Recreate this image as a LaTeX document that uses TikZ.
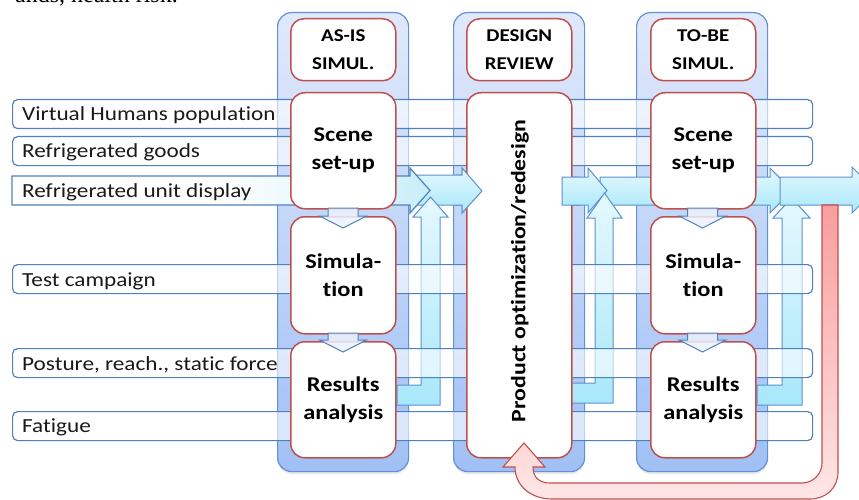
\documentclass[tikz,border=0pt]{standalone}
\usepackage{fontspec}
\setmainfont{Carlito}[FakeStretch=1.16, Ligatures=NoCommon, Contextuals=NoAlternate]
\newfontfamily\serifx{Liberation Serif}
\usetikzlibrary{shadows}
\definecolor{colT}{RGB}{224,233,251}
\definecolor{colB}{RGB}{160,192,245}
\definecolor{colbd}{RGB}{98,145,212}
\definecolor{bluebd}{RGB}{79,129,189}
\definecolor{redbd}{RGB}{192,80,77}
\definecolor{cyT}{RGB}{230,248,254}
\definecolor{cyB}{RGB}{168,232,250}
\definecolor{cyA}{RGB}{200,238,250}
\definecolor{arrbd}{RGB}{91,145,205}
\definecolor{redT}{RGB}{248,158,158}
\definecolor{redB}{RGB}{254,230,230}
\definecolor{chevfill}{RGB}{236,241,252}
\begin{document}
\begin{tikzpicture}[x=1pt,y=-1pt,
  colbox/.style={draw=colbd, line width=1.2pt, rounded corners=14pt, top color=colT, bottom color=colB,
     minimum width=131pt, minimum height=459pt, anchor=north west, inner sep=0pt,
     drop shadow={opacity=0.18, shadow xshift=0pt, shadow yshift=-2.5pt}},
  hdrbox/.style={draw=redbd, line width=1.5pt, rounded corners=13pt, fill=white,
     minimum width=105pt, minimum height=62pt, anchor=north west, inner sep=0pt,
     align=center, font=\fontsize{18}{27.5}\selectfont\bfseries},
  inbox/.style={draw=redbd, line width=1.5pt, rounded corners=14pt, fill=white,
     minimum width=105pt, anchor=north west, inner sep=0pt,
     align=center, font=\fontsize{21}{28}\selectfont\bfseries},
  barbox/.style={draw=bluebd, line width=1.2pt, rounded corners=5pt, fill=white, fill opacity=0.6,
     minimum width=800pt, minimum height=29pt, anchor=north west, inner sep=0pt},
  bartext/.style={anchor=base west, inner sep=0pt, font=\fontsize{20}{24}\selectfont, text=black!90},
  flowarrow/.style={draw=arrbd, line width=1pt, top color=cyT, bottom color=cyB},
  uparrow/.style={draw=arrbd, line width=1pt, top color=cyT, bottom color=cyB},
  chevarrow/.style={draw=bluebd, line width=1pt, fill=chevfill, fill opacity=0.85},
  fbarrow/.style={draw=redbd, line width=1.1pt, top color=redT, bottom color=redB}
]
\useasboundingbox (0,0) rectangle (859,500);

% cut-off page text at the top
\node[anchor=base east, inner sep=0pt, font=\serifx\fontsize{24}{28}\selectfont] (pagetext) at (178,3) {ands, health risk.};

% columns
\node[colbox] (c1) at (277,12) {};
\node[colbox] (c2) at (453,12) {};
\node[colbox] (c3) at (636,12) {};

% right-going flow arrows
\path[flowarrow] (417,175) -- (462,175) -- (462,168) -- (482,191) -- (462,213) -- (462,205) -- (417,205) -- cycle;
\path[draw=bluebd, line width=1.2pt, left color=white, right color=cyA, middle color=white]
  (12,176) -- (410,176) -- (410,168) -- (430,190.5) -- (410,213) -- (410,205) -- (12,205) -- cycle;
\path[flowarrow] (600,177) -- (770,177) -- (770,168) -- (792,190.5) -- (770,213) -- (770,205) -- (600,205) -- cycle;
\path[flowarrow] (562,177) -- (588,177) -- (588,168) -- (607,190.5) -- (588,213) -- (588,205) -- (562,205) -- cycle;

% bent up arrows
\path[uparrow] (397,385) -- (421,385) -- (421,217) -- (413,217) -- (430.5,197) -- (448,217) -- (440,217) -- (440,405) -- (397,405) -- cycle;
\path[uparrow] (570,383) -- (595,383) -- (595,218) -- (587,218) -- (604.5,193) -- (622,218) -- (613,218) -- (613,403) -- (570,403) -- cycle;
\path[uparrow] (757,385) -- (782,385) -- (782,218) -- (773,218) -- (791.5,198) -- (810,218) -- (802,218) -- (802,405) -- (757,405) -- cycle;

% last flow arrow
\path[flowarrow] (780,177) -- (852,177) -- (852,167) -- (875,190) -- (852,213) -- (852,205) -- (780,205) -- cycle;

% horizontal bars
\node[barbox] (b1) at (12,99) {};
\node[barbox] (b2) at (12,136) {};
\node[barbox] (b4) at (12,264) {};
\node[barbox] (b5) at (12,348) {};
\node[barbox] (b6) at (12,411) {};
\node[bartext] (t1) at (22,121) {Virtual Humans population};
\node[bartext] (t2) at (22,157.5) {Refrigerated goods};
\node[bartext] (t3) at (22,197) {Refrigerated unit display};
\node[bartext] (t4) at (22,286) {Test campaign};
\node[bartext] (t5) at (22,370) {Posture, reach., static force};
\node[bartext] (t6) at (22,432) {Fatigue};

% design review column boxes
\node[inbox, minimum height=365pt] (p) at (466,92) {};
\node[rotate=90, inner sep=0pt, font=\fontsize{20.5}{28}\selectfont\bfseries] (ptxt) at (520,271) {Product optimization/redesign};
\begin{scope}
  \clip (455,150) rectangle (580,230);
  \path[flowarrow] (417,175) -- (462,175) -- (462,168) -- (482,191) -- (462,213) -- (462,205) -- (417,205) -- cycle;
  \path[flowarrow] (562,177) -- (588,177) -- (588,168) -- (607,190.5) -- (588,213) -- (588,205) -- (562,205) -- cycle;
\end{scope}

% headers
\node[hdrbox] (h1) at (290,18) {AS-IS\\SIMUL.};
\node[hdrbox] (h2) at (466,18) {DESIGN\\REVIEW};
\node[hdrbox] (h3) at (650,18) {TO-BE\\SIMUL.};

% AS-IS boxes
\node[inbox, minimum height=116pt] (s1) at (290,92) {Scene\\set-up};
\node[inbox, minimum height=117pt] (m1) at (290,216) {Simula-\\tion};
\node[inbox, minimum height=116pt] (r1) at (290,341) {Results\\analysis};
% TO-BE boxes
\node[inbox, minimum height=116pt] (s3) at (650,92) {Scene\\set-up};
\node[inbox, minimum height=117pt] (m3) at (650,216) {Simula-\\tion};
\node[inbox, minimum height=116pt] (r3) at (650,341) {Results\\analysis};

% small down arrows between boxes
\path[chevarrow] (328,208) -- (358,208) -- (358,216) -- (366.5,216) -- (343,228) -- (319.5,216) -- (328,216) -- cycle;
\path[chevarrow] (328,333) -- (358,333) -- (358,340) -- (366.5,340) -- (343,352) -- (319.5,340) -- (328,340) -- cycle;
\path[chevarrow] (687.5,208) -- (717.5,208) -- (717.5,216) -- (726,216) -- (702.5,228) -- (679,216) -- (687.5,216) -- cycle;
\path[chevarrow] (687.5,333) -- (717.5,333) -- (717.5,340) -- (726,340) -- (702.5,352) -- (679,340) -- (687.5,340) -- cycle;

% feedback arrow
\path[fbarrow] (822,205) -- (822,463) .. controls (822,474) and (813,483) .. (802,483)
  -- (550,483) .. controls (539,483) and (533,477) .. (533,467)
  -- (545,467) -- (524,443) -- (503,467) -- (515,467)
  .. controls (515,485) and (530,499) .. (552,499)
  -- (810,499) .. controls (826,499) and (838,488) .. (838,472) -- (838,205) -- cycle;
\end{tikzpicture}
\end{document}
